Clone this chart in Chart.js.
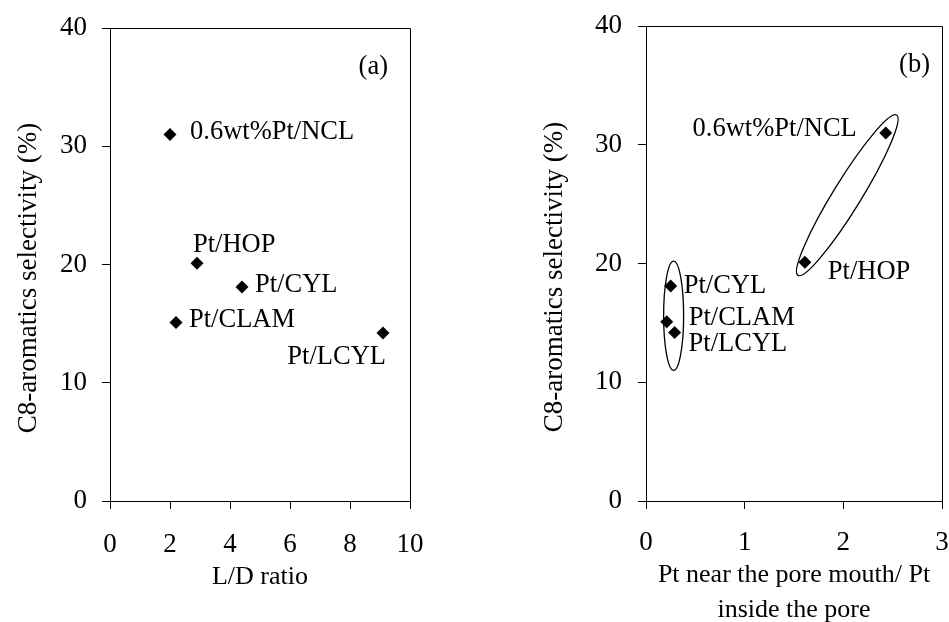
<!DOCTYPE html>
<html>
<head>
<meta charset="utf-8">
<script src="https://cdn.jsdelivr.net/npm/chart.js@4.4.0/dist/chart.umd.min.js"></script>
<style>
  html, body { margin: 0; padding: 0; background: #fff; overflow: hidden; }
  body { width: 949px; height: 622px; position: relative; }
  #wrapA { position: absolute; left: 0; top: 0; width: 460px; height: 622px; }
  #wrapB { position: absolute; left: 520px; top: 0; width: 429px; height: 628px; }
</style>
</head>
<body>
<div id="wrapA"><canvas id="chartA"></canvas></div>
<div id="wrapB"><canvas id="chartB"></canvas></div>
<script>
const serif = '"Liberation Serif", "Times New Roman", "DejaVu Serif", serif';

// values
const catalysts = ['0.6wt%Pt/NCL', 'Pt/HOP', 'Pt/CYL', 'Pt/CLAM', 'Pt/LCYL'];
const selectivity = [31.0, 20.1, 18.1, 15.1, 14.2];
const ldRatio = [2.0, 2.9, 4.4, 2.2, 9.1];
const mouthToInside = [2.43, 1.61, 0.25, 0.21, 0.29];

const yTicks = [0, 10, 20, 30, 40];
const xTicksA = [0, 2, 4, 6, 8, 10];
const xTicksB = [0, 1, 2, 3];

// where each point's name sits relative to its marker (px)
const tagPlaceA = [
  { dx: 20, dy: -2, align: 'left' },
  { dx: -4, dy: -18, align: 'left' },
  { dx: 13, dy: -2, align: 'left' },
  { dx: 13, dy: -2, align: 'left' },
  { dx: 3, dy: 24, align: 'right' }
];
const tagPlaceB = [
  { dx: -29, dy: -4, align: 'right' },
  { dx: 23, dy: 10, align: 'left' },
  { dx: 13, dy: 0, align: 'left' },
  { dx: 22, dy: -4, align: 'left' },
  { dx: 14, dy: 12, align: 'left' }
];

// grouping ellipses in panel (b): tips of the long axis in data units, half width in px
const ringsB = [
  { from: [1.54, 19.0], to: [2.54, 32.5], half: 14 },
  { from: [0.28, 11.0], to: [0.28, 20.2], half: 10 }
];

function annotate(place, letter, letterInset, rings) {
  return {
    id: 'annotate',
    afterDatasetsDraw(chart) {
      const ctx = chart.ctx;
      const area = chart.chartArea;
      const xs = chart.scales.x, ys = chart.scales.y;
      ctx.save();

      // top and right edges of the box
      ctx.strokeStyle = '#000';
      ctx.lineWidth = 1;
      ctx.beginPath();
      ctx.moveTo(area.left, Math.round(area.top) + 0.5);
      ctx.lineTo(Math.round(area.right) + 0.5, Math.round(area.top) + 0.5);
      ctx.lineTo(Math.round(area.right) + 0.5, area.bottom);
      ctx.stroke();

      rings.forEach(r => {
        const x1 = xs.getPixelForValue(r.from[0]), y1 = ys.getPixelForValue(r.from[1]);
        const x2 = xs.getPixelForValue(r.to[0]), y2 = ys.getPixelForValue(r.to[1]);
        const a = Math.hypot(x2 - x1, y2 - y1) / 2;
        ctx.beginPath();
        ctx.ellipse((x1 + x2) / 2, (y1 + y2) / 2, a, r.half, Math.atan2(y2 - y1, x2 - x1), 0, Math.PI * 2);
        ctx.lineWidth = 1.3;
        ctx.stroke();
      });

      ctx.fillStyle = '#000';
      ctx.font = '26.5px ' + serif;
      ctx.textBaseline = 'middle';
      const pts = chart.getDatasetMeta(0).data;
      catalysts.forEach((name, i) => {
        ctx.textAlign = place[i].align;
        ctx.fillText(name, pts[i].x + place[i].dx, pts[i].y + place[i].dy);
      });

      ctx.textAlign = 'right';
      ctx.fillText(letter, area.right - letterInset, area.top + 39);
      ctx.restore();
    }
  };
}

function axisLook() {
  return {
    grid: { display: true, drawOnChartArea: false, drawTicks: true, tickLength: 8, color: '#000', lineWidth: 1 },
    border: { display: true, color: '#000', width: 1 }
  };
}

function panelOptions(o) {
  return {
    responsive: true,
    maintainAspectRatio: false,
    animation: false,
    events: [],
    layout: { padding: o.pad },
    plugins: { legend: { display: false }, tooltip: { enabled: false } },
    scales: {
      x: Object.assign(axisLook(), {
        type: 'linear',
        min: o.xTicks[0],
        max: o.xTicks[o.xTicks.length - 1],
        afterBuildTicks: s => { s.ticks = o.xTicks.map(v => ({ value: v })); },
        afterFit: s => {
          s.height = o.xHeight;
          s.paddingLeft = 0;
          s.paddingRight = 0;
        },
        ticks: { color: '#000', font: { family: serif, size: 27 }, padding: o.xTickPad, maxRotation: 0, autoSkip: false },
        title: {
          display: true, text: o.xTitle, color: '#000',
          font: { family: serif, size: 26, lineHeight: o.xTitleLH },
          padding: { top: 0, bottom: o.xTitlePad }
        }
      }),
      y: Object.assign(axisLook(), {
        type: 'linear',
        min: yTicks[0],
        max: yTicks[yTicks.length - 1],
        afterBuildTicks: s => { s.ticks = yTicks.map(v => ({ value: v })); },
        afterFit: s => {
          s.width = o.yWidth;
          s.paddingTop = 0;
          s.paddingBottom = 0;
        },
        ticks: { color: '#000', font: { family: serif, size: 27 }, padding: o.yTickPad, autoSkip: false },
        title: {
          display: true, text: 'C8-aromatics selectivity (%)\u2003', color: '#000',
          font: { family: serif, size: 27 },
          padding: { top: o.yTitlePad, bottom: 0 }
        }
      })
    }
  };
}

function pointsOf(xs) {
  return xs.map((x, i) => ({ x: x, y: selectivity[i] }));
}

const marker = { pointStyle: 'rectRot', pointRadius: 6.5, backgroundColor: '#000', borderWidth: 0, showLine: false };

new Chart(document.getElementById('chartA'), {
  type: 'scatter',
  data: { datasets: [Object.assign({ label: 'L/D ratio', data: pointsOf(ldRatio) }, marker)] },
  options: panelOptions({
    pad: { top: 28, right: 50, left: 0, bottom: 0 },
    xTicks: xTicksA, xHeight: 121, xTickPad: 20,
    xTitle: 'L/D ratio', xTitleLH: 1.2, xTitlePad: 29,
    yWidth: 110, yTickPad: 15, yTitlePad: 13
  }),
  plugins: [annotate(tagPlaceA, '(a)', 22, [])]
});

new Chart(document.getElementById('chartB'), {
  type: 'scatter',
  data: { datasets: [Object.assign({ label: 'Pt near the pore mouth/ Pt inside the pore', data: pointsOf(mouthToInside) }, marker)] },
  options: panelOptions({
    pad: { top: 26, right: 7, left: 0, bottom: 0 },
    xTicks: xTicksB, xHeight: 127, xTickPad: 18,
    xTitle: ['Pt near the pore mouth/ Pt', 'inside the pore'], xTitleLH: 1.35, xTitlePad: 0,
    yWidth: 126, yTickPad: 16, yTitlePad: 19
  }),
  plugins: [annotate(tagPlaceB, '(b)', 12, ringsB)]
});
</script>
</body>
</html>
